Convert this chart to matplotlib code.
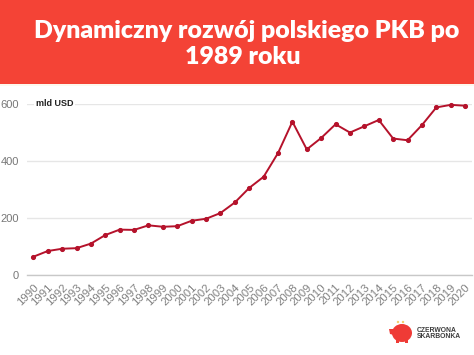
import matplotlib
matplotlib.use("Agg")
import matplotlib.pyplot as plt
from matplotlib.patches import Rectangle, Ellipse, Polygon, Circle

lata = list(range(1990, 2021))
pkb = [65, 85, 93, 95, 111, 141, 160, 159, 175, 170, 172, 191, 198, 218, 255,
       306, 345, 428, 538, 441, 481, 529, 500, 522, 544, 479, 473, 526, 588, 597, 594]
yticks = [0, 200, 400, 600]

W, H = 474, 355
fig = plt.figure(figsize=(W / 100, H / 100), dpi=100)
plt.rcParams['font.family'] = 'Lato'

# warstwa w pikselach: naglowek i logo
bg = fig.add_axes([0, 0, 1, 1])
bg.set_xlim(0, W)
bg.set_ylim(H, 0)
bg.axis("off")
bg.add_patch(Rectangle((0, 0), W, 84, color="#f44336", lw=0))
bg.add_patch(Rectangle((0, 84), W, 2, color="#fdf8ee", lw=0))
bg.text(247, 31, "Dynamiczny rozwój polskiego PKB po", color="white", fontsize=17.9,
        fontweight="heavy", ha="center", va="center", family="Lato")
bg.text(243, 57, "1989 roku", color="white", fontsize=17.9,
        fontweight="heavy", ha="center", va="center", family="Lato")

# logo
bg.add_patch(Ellipse((402, 333), 20, 18, color="#ef3b36", lw=0))
bg.add_patch(Polygon([(389, 329), (394, 329), (394, 335), (390, 334)], color="#ef3b36", lw=0))
bg.add_patch(Rectangle((396, 339), 3, 3.5, color="#ef3b36", lw=0))
bg.add_patch(Rectangle((405, 339), 3, 3.5, color="#ef3b36", lw=0))
bg.add_patch(Circle((398, 322), 1.2, color="#f3cf6b", lw=0))
bg.add_patch(Circle((403, 322), 1.2, color="#f3cf6b", lw=0))
bg.text(417, 330, "CZERWONA", color="#3c3c3c", fontsize=4.9, fontweight="bold",
        va="center", family="Liberation Sans")
bg.text(417, 337, "SKARBONKA", color="#3c3c3c", fontsize=4.9, fontweight="bold",
        va="center", family="Liberation Sans")

# wykres
left, right, top, bottom = 27, 472, 104, 275.3
ax = fig.add_axes([left / W, 1 - bottom / H, (right - left) / W, (bottom - top) / H])
ax.patch.set_alpha(0)
ax.plot(lata, pkb, color="#b5122b", lw=1.4, marker="o", ms=2.7, clip_on=False, zorder=3)
ax.set_xlim(1990 - 0.44, 2020 + 0.48)
ax.set_ylim(0, 600)
for s in ax.spines.values():
    s.set_visible(False)
ax.spines["bottom"].set_visible(True)
ax.spines["bottom"].set_color("#c8c8c8")
ax.spines["bottom"].set_linewidth(1)
ax.set_yticks(yticks)
ax.yaxis.grid(True, color="#e6e6e6", lw=1)
ax.set_axisbelow(True)
ax.tick_params(axis="y", length=0, pad=6, labelsize=8, labelcolor="#777777")
ax.set_yticklabels([str(v) for v in yticks], family="Liberation Sans")
ax.set_xticks(lata)
ax.set_xticklabels([str(r) for r in lata], rotation=45, ha="right", rotation_mode="anchor",
                   family="Liberation Sans", fontsize=8.2, color="#808080")
ax.tick_params(axis="x", length=0, pad=5)
for lab in ax.get_xticklabels():
    lab.set_clip_on(False)

ax.text(0.02, 1.0, "mld USD", transform=ax.transAxes, fontsize=6.5, fontweight="bold",
        color="#222222", va="center", family="Liberation Sans",
        bbox=dict(facecolor="white", edgecolor="none", pad=1.5))

fig.savefig("out.png", dpi=100, facecolor="white")
